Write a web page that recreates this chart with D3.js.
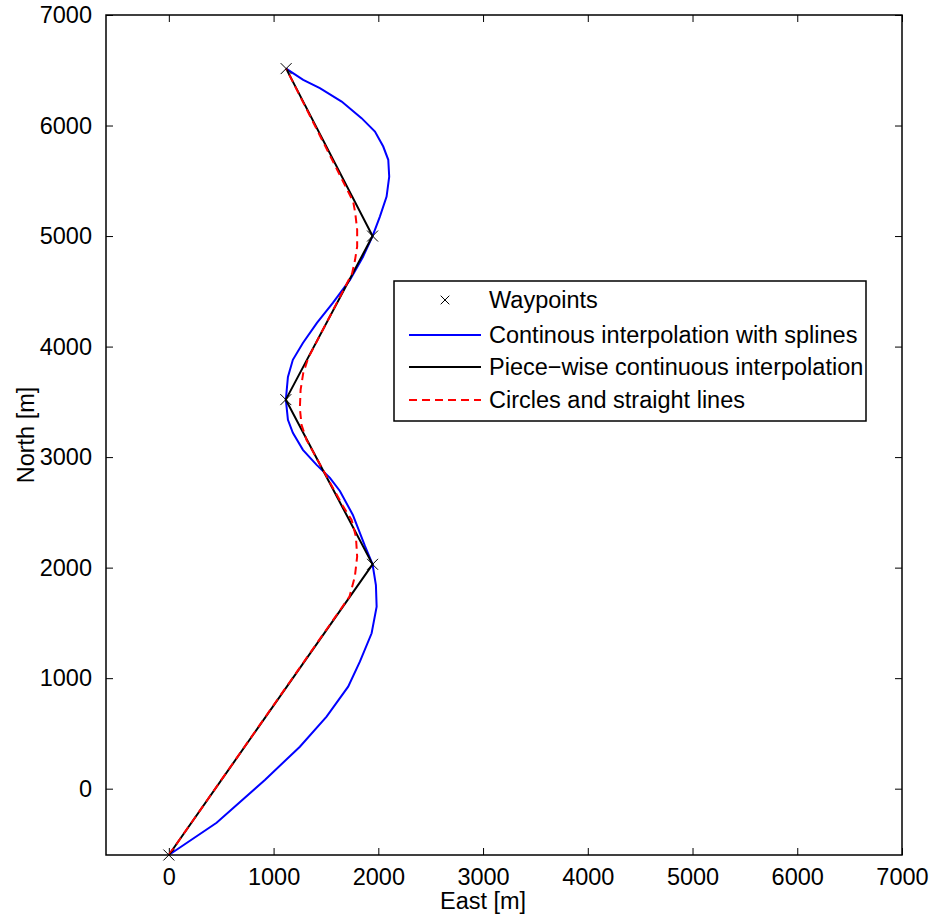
<!DOCTYPE html>
<html>
<head>
<meta charset="utf-8">
<script src="https://cdn.jsdelivr.net/npm/d3@7"></script>
<style>
	body { margin: 0; background: #fff; }
	text { font-family: "Liberation Sans", Arial, sans-serif; fill: #000; }
</style>
</head>
<body>
<div id="chart"></div>
<script>
// waypoints [east, north]
var waypoints = [[0, -600], [1945, 2030], [1117, 3520], [1945, 5000], [1120, 6515]];

// continuous interpolation with splines (sampled)
var splinePts = [
	[0, -600], [456, -308], [917, 79], [1251, 380], [1506, 652], [1712, 923],
	[1824, 1149], [1936, 1406], [1984, 1647], [1977, 1843], [1945, 2030],
	[1872, 2196], [1757, 2477], [1633, 2694], [1538, 2812], [1411, 2930],
	[1280, 3066], [1184, 3220], [1137, 3338], [1117, 3520], [1137, 3725],
	[1184, 3880], [1280, 4033], [1414, 4214], [1566, 4395], [1729, 4603],
	[1853, 4811], [1945, 5000], [2015, 5176], [2079, 5357], [2104, 5538],
	[2095, 5690], [2047, 5810], [1968, 5946], [1840, 6067], [1650, 6217],
	[1442, 6338], [1283, 6414], [1120, 6515]
];

// circles and straight lines
var circlePts = [
	[0, -600], [1725, 1738], [1776, 1919], [1798, 2100], [1786, 2281],
	[1745, 2432], [1665, 2552], [1350, 3095], [1315, 3155], [1267, 3291],
	[1251, 3442], [1258, 3608], [1283, 3759], [1330, 3895], [1718, 4604],
	[1750, 4664], [1778, 4785], [1798, 4905], [1798, 5057], [1780, 5207],
	[1760, 5312], [1120, 6515]
];

var xTicks = [0, 1000, 2000, 3000, 4000, 5000, 6000, 7000];
var yTicks = [0, 1000, 2000, 3000, 4000, 5000, 6000, 7000];

var legendLabels = ["Waypoints", "Continous interpolation with splines",
	"Piece\u2212wise continuous interpolation", "Circles and straight lines"];

var W = 933, H = 922;
var margin = { left: 106, top: 15, right: 31, bottom: 67 };
var width = W - margin.left - margin.right;
var height = H - margin.top - margin.bottom;
var fs = "23.5px";

var svg = d3.select("#chart").append("svg")
	.attr("width", W)
	.attr("height", H);

var g = svg.append("g")
	.attr("transform", "translate(" + margin.left + "," + margin.top + ")");

var x = d3.scaleLinear().domain([-600, 7000]).range([0, width]);
var y = d3.scaleLinear().domain([-600, 7000]).range([height, 0]);
var fmt = d3.format("d");

// axes with inward ticks
g.append("g")
	.attr("transform", "translate(0," + height + ")")
	.call(d3.axisBottom(x).tickValues(xTicks).tickFormat(fmt).tickSizeInner(-7).tickSizeOuter(0).tickPadding(13))
	.call(function (a) {
		a.select(".domain").remove();
		a.selectAll("text").style("font-size", fs).attr("dy", "0.71em");
	});
g.append("g")
	.call(d3.axisTop(x).tickValues(xTicks).tickSizeInner(-7).tickSizeOuter(0).tickFormat(""))
	.call(function (a) { a.select(".domain").remove(); });
g.append("g")
	.call(d3.axisLeft(y).tickValues(yTicks).tickFormat(fmt).tickSizeInner(-7).tickSizeOuter(0).tickPadding(14))
	.call(function (a) {
		a.select(".domain").remove();
		a.selectAll("text").style("font-size", fs);
	});
g.append("g")
	.attr("transform", "translate(" + width + ",0)")
	.call(d3.axisRight(y).tickValues(yTicks).tickSizeInner(-7).tickSizeOuter(0).tickFormat(""))
	.call(function (a) { a.select(".domain").remove(); });
g.selectAll(".tick line").attr("stroke", "#000").attr("stroke-width", 1);

var line = d3.line()
	.x(function (d) { return x(d[0]); })
	.y(function (d) { return y(d[1]); });

g.append("path").datum(splinePts)
	.attr("d", line).attr("fill", "none")
	.attr("stroke", "#0000ff").attr("stroke-width", 2);

g.append("path").datum(waypoints)
	.attr("d", line).attr("fill", "none")
	.attr("stroke", "#000").attr("stroke-width", 2);

g.append("path").datum(circlePts)
	.attr("d", line).attr("fill", "none")
	.attr("stroke", "#ff0000").attr("stroke-width", 2)
	.attr("stroke-dasharray", "8,5");

var cross = d3.symbol().type(d3.symbolX).size(80);
g.selectAll(".wp").data(waypoints).enter()
	.append("path")
	.attr("class", "wp")
	.attr("d", cross)
	.attr("transform", function (d) { return "translate(" + x(d[0]) + "," + y(d[1]) + ")"; })
	.attr("fill", "none")
	.attr("stroke", "#000")
	.attr("stroke-width", 1);

// frame
g.append("rect")
	.attr("width", width).attr("height", height)
	.attr("fill", "none").attr("stroke", "#000").attr("stroke-width", 1.5);

// axis labels
svg.append("text")
	.attr("x", margin.left + x(3000))
	.attr("y", 909)
	.attr("text-anchor", "middle")
	.style("font-size", fs)
	.text("East [m]");
svg.append("text")
	.attr("transform", "translate(34," + (margin.top + height / 2) + ") rotate(-90)")
	.attr("text-anchor", "middle")
	.style("font-size", fs)
	.text("North [m]");

// legend
var leg = svg.append("g").attr("transform", "translate(394,281)");
leg.append("rect")
	.attr("width", 472).attr("height", 140)
	.attr("fill", "#fff").attr("stroke", "#000").attr("stroke-width", 1.5);
var rowY = [19, 54, 86, 119];
var styles = [null, { c: "#0000ff", d: null }, { c: "#000", d: null }, { c: "#ff0000", d: "8,5" }];
legendLabels.forEach(function (lab, i) {
	if (i === 0) {
		leg.append("path").attr("d", d3.symbol().type(d3.symbolX).size(50))
			.attr("transform", "translate(51," + rowY[i] + ")")
			.attr("fill", "none").attr("stroke", "#000").attr("stroke-width", 1);
	} else {
		leg.append("line")
			.attr("x1", 15).attr("x2", 87)
			.attr("y1", rowY[i]).attr("y2", rowY[i])
			.attr("stroke", styles[i].c).attr("stroke-width", 2)
			.attr("stroke-dasharray", styles[i].d);
	}
	leg.append("text")
		.attr("x", 95).attr("y", rowY[i])
		.attr("dy", "0.36em")
		.style("font-size", fs)
		.text(lab);
});
</script>
</body>
</html>
